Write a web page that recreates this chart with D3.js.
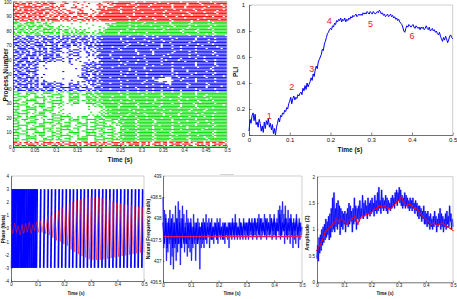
<!DOCTYPE html>
<html><head><meta charset="utf-8">
<script src="https://cdn.jsdelivr.net/npm/d3@7"></script>
<style>body{margin:0;background:#fff}svg{display:block}text{font-family:"Liberation Sans",Arial,sans-serif}</style>
</head><body><svg id="c" width="457" height="299"></svg>
<script>
// ---------------- DATA ----------------
// Raster: rows 100..0, each hex char = 4 bins of 0.005 s (MSB first)
const rasterBin = 0.005;
const rasterRows = [
"d3b6e18c403e7fbbf7fdfdf7f","6d9b70c2108bfe7fdf7fbefdf","bd67a30881c6fbdf7fdfbf7fb","e7bc6b0420b1ffbeffdf7fefd",
"5fe9b41c80afdf7ffbdf7fbff","d6b7e58309efbfdfbfeff77fd","b7de5a61847fdf7ffefdfbfef","6ebdad3a82fbdff7fdffbfbdf",
"fb6d96b3e4dfff7fdfbfdffef","d5fb6dc369bfff7ffdfeefdff","6dae5b6d9bfffbfdfef7fffbd","bf6db3dc6dfffdefbfff7fbff",
"e9b6fad3b6fbffdfdfbffdff7","5ed6bd6cd57ffdbfffdfefeff",
"e3d920010000fffbdfbfeffbf","d6c34010201bfdf7ffbfdfeff","3b6d8200040effbf7fdffbfdf","b5dce5410087fdfffbefdff7f",
"6d9b6c28102fffbfdf7fbfeff","dab3d6c5409ffbfffdfefdfbf","3d6eb5d6c2bfdf7ffbfdfbfff","b6d3ecd5b4dfbffdfffefdfbf",
"d3ba6d6bc5ffbfdfff7fbfddf","6b3d95ed6a7ffdfbbfffdffbe",
"b3d6ed5b6dfffbfdefbffdbff","6dcb35e6d5bfdf7fbff7fbfdf","d6b3eb5de6ffdffbfbdffbeff","3bd6e6dcb57ffbfefdfff7fdf",
"ed3b6d9b6dffefdfbfbfdfeff","d6ed39ed6abffdf7fbfffdfbf","6b3deb6d3bfffbfdfbdfbf7ff","b6de39e25dfdf7fffbfdfbfef",
"3dcb6e4152bfbfffefdfffdfb","de6b3c2e49ffdfbf7ffdfbfff","6b3d6e3125fdffbfbfefdffbf","ed6b314e327fffdfbfdffbfdf",
"3b6dec3214fbffdfbf7fdffbf","d3eb6c2e15fbfffbfdfffdfef","b6d3ee4121bfdf7fffbfdfbff","6ed3b13202fdfffbfbfdfbfff",
"de3b6e24107fbfdffefbffbdf","3b6ed12104fffbfdfbff7fdff",
"b3d100206ebfdfbfffdffbfdf","6db000103bfff7fdfbfffbfdf","ed620000d67fbfffbfdffbfef","3b3000006efdfffbfffefdfbf",
"d6e10004b3bffdfbffdffff7f","6b300000edfffdff7fdfbffbf","b3e001003b7fdfbfffdfbfdff","3d600000e6fffbfdfff7fbfdf",
"de320000b6bfdfbfffdfeffbf","6b600002d3fff7fdfbf7ffbfd","b3d40001e6fbffdfbe3bbfdff","3ed001006b7fbfdfb03efbfdf",
"d6b200103efffbfdc01dfbfff","6db31002d6bfdffbf33ffbfdf",
"b3d6ee3215fbfff7fe3fbfdff","3eb6d32e4e7fdfffbfbfdfeff","d6b3ee3d25fffbfdfbffbfdfb","6ed3b3e6e3bfdfbfff7fbfdff",
"b3ed6d3e3bfbffdfbfdffbfdf","3db6e6b3d6fffbfdfbfdfefff",
"e3d3eb6d3b7fbfdfbfdffbfef","32e3c43e3bfffbfdfbfdfbfff","e3243e32edbfdff7fbfdfbdff","3e32e32e36fdfbfffdfbffbff",
"c43e2e3e3b7ffbfdfbfdfbf7f","32e3423e3efbfdffdfbfbfdff","e3e23e32d6bfdf7fdffbfdfbf","4e32e32e3bfdfbfdfbfdfefff",
"e23e3e4e3e7fbfdfbfdff7fdf","3e4e251005bfdfbffbfdfbffd","e32e320012dfbfdff7fdfbfff","23e4e400005fbfdfbffbfdfbf",
"e3e32100102bfdfbfdffefdff","4e23e200005fff7fdfbfdfbff","e32e440008afbfdffbfdfbfdf","3e4e3120005bfdfbfdfbff7ff",
"e23e3e40156ffbfdfdfbfdfbf","32e323e2e3bfdfbfffbfdfbff","e3e43e32e3dff7fdfbfdfbfbf","4e32e32e3ee3bfdfbfdffbfff",
"e4e23e3e233e7fbfdfdfbfdff","23e3e4e32ee36fbfdffbfdfbf","e32e4e23e332bfdfbfdffbeff","3e4e32e4e3e4dfbff7fdfbfdf",
"e23e23e32e3e3fdfbfdfbffbf","32e3ee4e23e32fbfbfdfbfdff","e3e243e23e4e3bfdfbfdff7ff","4e32ee32e4e33fdfbfdffbfdf",
"e23e323e3e3e6fbfdfbfdffbf","3e4e2e4e32e3bfdfbfdfbffdf","e32e33e23e4e3fdfbff7fdfbf","23e4ee32e3e36fbfdfbfdfbdf",
"e3e324e3e23ebfdfbfdfbfdff","4e23ee23e3e3dfbfdfbfdfeff","e32e43e4e32e3fdfbf7fdfbfd",
"d6b3ed3b6eb3d6ed3b6ed3b6e","b3d6d6ed3b6db3ed6b3de6b3d","6deb3b3d6ed3eb6b3d6eb3d6b",
"fffffffffffffffffffffffff"
];
const rasterGroupSizes = [14, 10, 38, 35, 3, 1];
const rasterGroupColors = ["#ff1010", "#10e010", "#1010ff", "#10e010", "#ff1010", "#10e010"];
const rasterXTicks = [0,0.05,0.1,0.15,0.2,0.25,0.3,0.35,0.4,0.45,0.5];
const rasterYTicks = [0,10,20,30,40,50,60,70,80,90,100];

// PLI, sampled every 0.0025 s from 0 to 0.5
const pliStep = 0.0025;
const pli = [
0.03,0.12,0.09,0.15,0.17,0.11,0.16,0.08,0.10,0.06,
0.12,0.09,0.03,0.07,0.02,0.10,0.05,0.11,0.08,0.13,
0.06,0.09,0.04,0.08,0.01,0.05,0.00,0.06,0.09,0.13,
0.10,0.15,0.14,0.17,0.16,0.19,0.18,0.21,0.20,0.24,
0.26,0.29,0.24,0.28,0.30,0.27,0.29,0.28,0.31,0.30,
0.32,0.33,0.31,0.36,0.34,0.38,0.35,0.40,0.37,0.39,
0.41,0.44,0.42,0.47,0.45,0.50,0.53,0.51,0.56,0.58,
0.60,0.62,0.66,0.65,0.70,0.72,0.75,0.78,0.79,0.81,
0.82,0.81,0.84,0.83,0.86,0.85,0.88,0.87,0.89,0.88,
0.90,0.87,0.89,0.88,0.90,0.87,0.89,0.88,0.90,0.89,
0.91,0.90,0.92,0.91,0.92,0.93,0.91,0.92,0.93,0.92,
0.93,0.92,0.94,0.93,0.94,0.93,0.95,0.94,0.93,0.95,
0.94,0.93,0.95,0.94,0.93,0.94,0.95,0.94,0.96,0.95,
0.93,0.94,0.92,0.93,0.91,0.92,0.93,0.91,0.92,0.93,
0.91,0.92,0.90,0.91,0.89,0.90,0.88,0.89,0.87,0.86,
0.85,0.83,0.80,0.79,0.82,0.84,0.83,0.85,0.84,0.83,
0.84,0.85,0.83,0.82,0.84,0.83,0.82,0.83,0.81,0.83,
0.82,0.83,0.81,0.82,0.84,0.82,0.81,0.83,0.80,0.81,
0.82,0.80,0.81,0.79,0.80,0.78,0.77,0.79,0.76,0.74,
0.72,0.75,0.73,0.76,0.74,0.71,0.73,0.76,0.77,0.75,
0.74];
const pliLabels = ["1","2","3","4","5","6"];
const pliLabelT = [0.05,0.105,0.154,0.197,0.298,0.40];
const pliLabelV = [0.146,0.367,0.508,0.879,0.854,0.76];
const pliXTicks = [0,0.1,0.2,0.3,0.4,0.5];
const pliYTicks = [0,0.2,0.4,0.6,0.8,1];

// Phase panel
const phaseEarlyWraps = [0.002,0.005,0.008,0.011,0.014,0.017,0.021,0.024,0.027,0.030,0.034,0.037,0.040,0.044,0.047,0.050,0.054,0.057,0.061,0.064,0.068,0.071,0.075,0.078,0.082,0.085,0.089,0.092,0.096];
const phaseWraps = [0.109,0.123,0.137,0.150,0.164,0.178,0.191,0.205,0.219,0.232,0.246,0.260,0.273,0.287,0.301,0.314,0.328,0.342,0.355,0.369,0.383,0.396,0.410,0.424,0.437,0.451,0.465,0.478,0.492];
const meanPhaseStep = 0.5/73;
const meanPhase = [
0.3,-0.4,0.4,-0.3,0.2,-0.5,0.3,-0.4,0.4,-0.3,0.5,-0.4,0.3,-0.2,0.5,
-0.3,0.6,-0.3,0.7,-0.4,0.9,-0.5,1.0,-0.7,1.2,-0.9,1.4,-1.0,1.6,-1.2,
1.85,-1.3,1.95,-1.6,2.05,-1.8,2.15,-1.95,2.2,-2.1,2.3,-2.2,2.35,-2.35,2.4,
-2.4,2.38,-2.4,2.35,-2.38,2.3,-2.35,2.25,-2.3,2.15,-2.25,2.05,-2.2,1.95,-2.15,
1.9,-2.1,1.85,-2.05,1.8,-2.0,1.75,-1.95,1.7,-1.9,1.65,-1.85,1.6,-1.8];
const phaseXTicks = [0,0.1,0.2,0.3,0.4,0.5];
const phaseYTicks = [-4,-3,-2,-1,0,1,2,3,4];

// Natural frequency: wide trace every 0.0025 s, core trace every 0.005 s
const natStep = 0.0025;
const natFreq = [
438.5,437.3,438.2,437.6,438.1,437.0,437.9,437.2,438.0,437.4,
438.2,436.9,437.8,437.1,438.1,436.8,437.9,437.3,438.3,437.0,
438.0,437.2,438.4,437.4,438.2,436.9,438.0,437.3,438.3,437.5,
438.1,437.2,437.9,437.4,438.2,437.1,438.0,437.3,437.9,437.2,
438.0,437.0,437.8,437.3,438.1,437.4,437.9,437.0,437.8,437.4,
438.0,437.5,437.9,436.8,437.8,437.3,437.9,437.4,438.0,437.3,
437.9,437.5,438.1,437.4,437.9,437.6,438.0,437.3,437.9,437.5,
438.0,437.5,437.8,437.4,437.9,437.6,437.8,437.5,438.0,437.4,
437.9,437.6,438.0,437.5,437.8,437.6,437.9,437.5,437.8,437.4,
437.9,437.6,437.8,437.5,437.9,437.3,437.8,437.6,437.9,437.5,
438.0,437.6,437.9,437.5,438.1,437.6,437.9,437.5,437.8,437.6,
438.0,437.5,437.9,437.6,437.8,437.5,438.0,437.6,437.9,437.5,
437.8,437.6,437.9,437.5,437.8,437.6,437.9,437.6,438.0,437.5,
437.9,437.6,438.0,437.6,437.9,437.5,438.0,437.7,438.1,437.6,
437.9,437.5,438.0,437.6,437.9,437.7,438.1,437.6,437.9,437.5,
438.0,437.6,437.9,437.6,438.1,437.7,438.0,437.5,437.9,437.6,
438.1,437.6,437.9,437.5,438.0,437.7,438.2,437.6,438.3,437.5,
438.2,437.6,438.4,437.7,438.1,437.4,438.3,437.6,438.0,437.5,
438.2,437.6,438.0,437.4,438.1,437.6,437.9,437.3,438.0,437.5,
437.9,437.4,438.1,437.6,437.8,437.3,438.0,437.5,437.9,437.6,
437.8];
const natCoreStep = 0.005;
const natCore = [
437.9,437.4,438.0,437.3,437.9,437.5,438.0,437.3,437.9,437.4,
438.0,437.4,437.9,437.3,438.0,437.4,437.8,437.4,437.9,437.5,
437.9,437.4,437.8,437.5,437.9,437.4,437.8,437.5,437.9,437.5,
437.9,437.5,437.8,437.6,437.9,437.5,437.8,437.6,437.9,437.5,
437.9,437.6,437.8,437.5,437.9,437.6,437.8,437.6,437.9,437.6,
437.9,437.6,437.9,437.6,437.8,437.6,437.9,437.6,437.9,437.7,
437.9,437.6,438.0,437.7,437.9,437.6,438.0,437.7,437.9,437.6,
438.0,437.7,437.9,437.6,438.0,437.7,437.9,437.6,438.0,437.7,
438.0,437.6,437.9,437.7,438.1,437.6,437.9,437.7,438.0,437.6,
437.9,437.7,438.0,437.6,437.9,437.7,438.0,437.6,437.9,437.7,
437.8];
const natMean = 437.57;
const natXTicks = [0,0.1,0.2,0.3,0.4,0.5];
const natYTicks = [436.5,437,437.5,438,438.5,439];

// Amplitude
const ampStep = 0.0025;
const ampOsc = [
0.45,0.70,0.40,0.85,0.55,0.90,0.60,1.00,0.70,1.05,
0.75,1.10,0.80,1.20,0.85,1.15,0.90,1.25,0.80,1.30,
0.85,1.40,0.95,1.60,1.00,1.70,0.95,1.40,1.05,1.50,
1.00,1.55,1.10,1.45,0.90,1.40,1.05,1.35,1.00,1.30,
1.10,1.35,0.95,1.30,1.10,1.40,1.05,1.50,1.10,1.45,
1.15,1.35,0.95,1.40,1.10,1.60,1.15,1.45,1.00,1.40,
1.20,1.45,1.15,1.55,1.20,1.40,1.25,1.65,1.20,1.50,
1.25,1.55,1.30,1.45,1.20,1.60,1.30,1.50,1.25,1.55,
1.30,1.60,1.35,1.50,1.25,1.65,1.35,1.55,1.30,1.70,
1.35,1.80,1.40,1.55,1.30,1.75,1.40,1.60,1.35,1.55,
1.40,1.65,1.35,1.60,1.30,1.55,1.40,1.50,1.35,1.60,
1.40,1.65,1.45,1.60,1.40,1.70,1.50,1.75,1.45,1.70,
1.55,1.80,1.50,1.75,1.45,1.65,1.40,1.60,1.45,1.70,
1.40,1.65,1.45,1.60,1.40,1.55,1.35,1.60,1.40,1.55,
1.35,1.60,1.40,1.50,1.30,1.55,1.35,1.50,1.25,1.45,
1.20,1.45,1.25,1.40,1.15,1.35,1.20,1.45,1.10,1.35,
1.10,1.30,1.05,1.35,1.10,1.25,1.00,1.30,1.05,1.20,
1.00,1.25,1.05,1.35,1.10,1.25,0.95,1.20,1.05,1.30,
1.10,1.40,1.00,1.30,1.05,1.25,0.95,1.20,1.05,1.30,
1.00,1.35,1.10,1.25,1.05,1.45,1.15,1.30,1.00,1.20,
1.05];
const ampMeanStep = 0.01;
const ampMean = [0.60,0.70,0.80,0.95,1.00,1.05,1.10,1.20,1.15,1.20,
1.15,1.10,1.18,1.20,1.25,1.10,1.22,1.25,1.28,1.30,
1.32,1.38,1.40,1.45,1.42,1.45,1.40,1.38,1.45,1.50,
1.55,1.62,1.50,1.45,1.48,1.45,1.40,1.38,1.30,1.25,
1.20,1.15,1.10,1.12,1.08,1.10,1.12,1.08,1.05,1.02,0.98];
const ampXTicks = [0,0.1,0.2,0.3,0.4,0.5];
const ampYTicks = [0,0.5,1,1.5,2];

// ---------------- DRAW ----------------
const svg = d3.select("#c");
const FONT = '"Liberation Sans",Arial,sans-serif';

function frame(x, y, o) {
  const g = svg.append("g");
  const [x0, x1] = x.range(), [y1, y0] = y.range();
  const ax = g.append("g").attr("transform", `translate(0,${y1})`)
    .call(d3.axisBottom(x).tickValues(o.xt).tickSizeInner(-o.tl).tickSizeOuter(0).tickPadding(o.xp).tickFormat(d => String(d)));
  const ay = g.append("g").attr("transform", `translate(${x0},0)`)
    .call(d3.axisLeft(y).tickValues(o.yt).tickSizeInner(-o.tl).tickSizeOuter(0).tickPadding(o.yp).tickFormat(d => String(d)));
  [ax, ay].forEach(a => {
    a.selectAll("text").attr("font-size", o.fs).attr("fill", "#111").attr("font-family", FONT);
    a.selectAll("line").attr("stroke", "#333").attr("stroke-width", 0.6);
    a.select(".domain").attr("stroke", "#333").attr("stroke-width", 0.7);
  });
  g.append("path").attr("d", `M${x0},${y0}H${x1}V${y1}`).attr("fill", "none").attr("stroke", "#bbb").attr("stroke-width", 0.7);
  return g;
}
function label(txt, x, y, fs, rot) {
  svg.append("text").attr("x", x).attr("y", y).attr("font-size", fs).attr("font-weight", "bold")
    .attr("text-anchor", "middle").attr("dominant-baseline", "central").attr("fill", "#111")
    .attr("transform", rot ? `rotate(-90,${x},${y})` : null).text(txt);
}

// Panel 1: raster
{
  const x = d3.scaleLinear().domain([0, 0.5]).range([13, 227]);
  const y = d3.scaleLinear().domain([0, 100]).range([147, 2]);
  const colors = [];
  rasterGroupSizes.forEach((n, i) => { for (let k = 0; k < n; k++) colors.push(rasterGroupColors[i]); });
  const segs = [];
  rasterRows.forEach((s0, i) => {
    const s = (s0 + "0000000000000000000000000").slice(0, 25);
    const row = 100 - i;
    const bits = [];
    for (const ch of s) { const v = parseInt(ch, 16); for (let b = 3; b >= 0; b--) bits.push((v >> b) & 1); }
    let start = -1;
    bits.concat([0]).forEach((b, j) => {
      if (b && start < 0) start = j;
      if (!b && start >= 0) { segs.push({ row, t0: start * rasterBin, t1: j * rasterBin, c: colors[i] }); start = -1; }
    });
  });
  const h = Math.abs(y(1) - y(0)) * 0.72;
  svg.append("g").selectAll("rect").data(segs).join("rect")
    .attr("x", d => x(d.t0)).attr("width", d => x(d.t1) - x(d.t0))
    .attr("y", d => y(d.row) - h / 2).attr("height", h).attr("fill", d => d.c);
  frame(x, y, { xt: rasterXTicks, yt: rasterYTicks, tl: 1.5, xp: 1.5, yp: 1.5, fs: 4.5 });
  label("Time (s)", 120, 159, 6.5);
  label("Process Number", 5, 75, 6.7, true);
}

// Panel 2: PLI
{
  const x = d3.scaleLinear().domain([0, 0.5]).range([249, 452.7]);
  const y = d3.scaleLinear().domain([0, 1]).range([135, 5]);
  frame(x, y, { xt: pliXTicks, yt: pliYTicks, tl: 2.5, xp: 3, yp: 4, fs: 6 });
  svg.append("path").datum(pli).attr("fill", "none").attr("stroke", "#0000ff").attr("stroke-width", 1)
    .attr("d", d3.line().x((d, i) => x(i * pliStep)).y(d => y(d)));
  svg.append("g").selectAll("text").data(pliLabels).join("text")
    .attr("x", (d, i) => x(pliLabelT[i])).attr("y", (d, i) => y(pliLabelV[i]))
    .attr("text-anchor", "middle").attr("dominant-baseline", "central")
    .attr("font-size", 9).attr("fill", "#e82020").text(d => d);
  label("Time (s)", 350, 149, 6.5);
  label("PLI", 235, 72, 6.5, true);
}

// Panel 3: phase
{
  const x = d3.scaleLinear().domain([0, 0.5]).range([11, 144]);
  const y = d3.scaleLinear().domain([-4, 4]).range([281, 176]);
  const g = svg.append("g");
  g.selectAll("line.e").data(phaseEarlyWraps).join("line").attr("class", "e")
    .attr("x1", d => x(d)).attr("x2", d => x(d) + 0.8).attr("y1", y(-3)).attr("y2", y(3))
    .attr("stroke", "#0000ff").attr("stroke-width", 1.5);
  g.selectAll("line.w").data(phaseWraps).join("line").attr("class", "w")
    .attr("x1", d => x(d)).attr("x2", d => x(d) + 0.8).attr("y1", y(-3)).attr("y2", y(3))
    .attr("stroke", "#0000ff").attr("stroke-width", 1.7);
  g.append("path").datum(meanPhase).attr("fill", "none").attr("stroke", "#ff1a1a").attr("stroke-width", 0.7).attr("stroke-opacity", 0.8)
    .attr("d", d3.line().x((d, i) => x(i * meanPhaseStep)).y(d => y(d)));
  frame(x, y, { xt: phaseXTicks, yt: phaseYTicks, tl: 1.5, xp: 2, yp: 2, fs: 4.5 });
  label("Time (s)", 76, 293, 4.5);
  label("Phase (theta)", 3, 229, 4.5, true);
}

// Panel 4: natural frequency
{
  const x = d3.scaleLinear().domain([0, 0.5]).range([163, 302]);
  const y = d3.scaleLinear().domain([436.5, 439]).range([282, 176]);
  const ln = d3.line().x((d, i) => x(i * natStep)).y(d => y(d));
  const lc = d3.line().x((d, i) => x(i * natCoreStep)).y(d => y(d));
  svg.append("path").datum(natFreq).attr("fill", "none").attr("stroke", "#7d7dff").attr("stroke-width", 1.8).attr("stroke-opacity", 0.55).attr("d", ln);
  svg.append("path").datum(natFreq).attr("fill", "none").attr("stroke", "#0000ff").attr("stroke-width", 0.6).attr("d", ln);
  svg.append("path").datum(natCore).attr("fill", "none").attr("stroke", "#0000ff").attr("stroke-width", 1.2).attr("d", lc);
  svg.append("line").attr("x1", x(0)).attr("x2", x(0.5)).attr("y1", y(natMean)).attr("y2", y(natMean))
    .attr("stroke", "#e8185a").attr("stroke-width", 1.3);
  frame(x, y, { xt: natXTicks, yt: natYTicks, tl: 1.5, xp: 2, yp: 1.5, fs: 4.5 });
  label("Time (s)", 232, 293, 4.5);
  label("Natural Frequency (rad/s)", 148, 229, 5, true);
  svg.append("text").attr("x", 227).attr("y", 174.5).attr("font-size", 2.5).attr("fill", "#888")
    .attr("text-anchor", "middle").text("Frequencies");
}

// Panel 5: amplitude
{
  const x = d3.scaleLinear().domain([0, 0.5]).range([317, 453]);
  const y = d3.scaleLinear().domain([0, 2]).range([282.3, 176.7]);
  const ln = d3.line().x((d, i) => x(i * ampStep)).y(d => y(d));
  svg.append("path").datum(ampOsc).attr("fill", "none").attr("stroke", "#7d7dff").attr("stroke-width", 2.2).attr("stroke-opacity", 0.55).attr("d", ln);
  svg.append("path").datum(ampOsc).attr("fill", "none").attr("stroke", "#0000ff").attr("stroke-width", 0.8).attr("d", ln);
  const lm = d3.line().x((d, i) => x(i * ampMeanStep)).y(d => y(d));
  svg.append("path").datum(ampMean).attr("fill", "none").attr("stroke", "#ff0000").attr("stroke-width", 1).attr("d", lm);
  svg.append("g").selectAll("circle").data(ampMean).join("circle")
    .attr("cx", (d, i) => x(i * ampMeanStep)).attr("cy", d => y(d)).attr("r", 0.8).attr("fill", "#ff0000");
  frame(x, y, { xt: ampXTicks, yt: ampYTicks, tl: 1.5, xp: 2, yp: 2, fs: 4.5 });
  label("Time (s)", 385, 293, 4.5);
  label("Amplitude (Z)", 307, 233, 5.5, true);
}
</script></body></html>
